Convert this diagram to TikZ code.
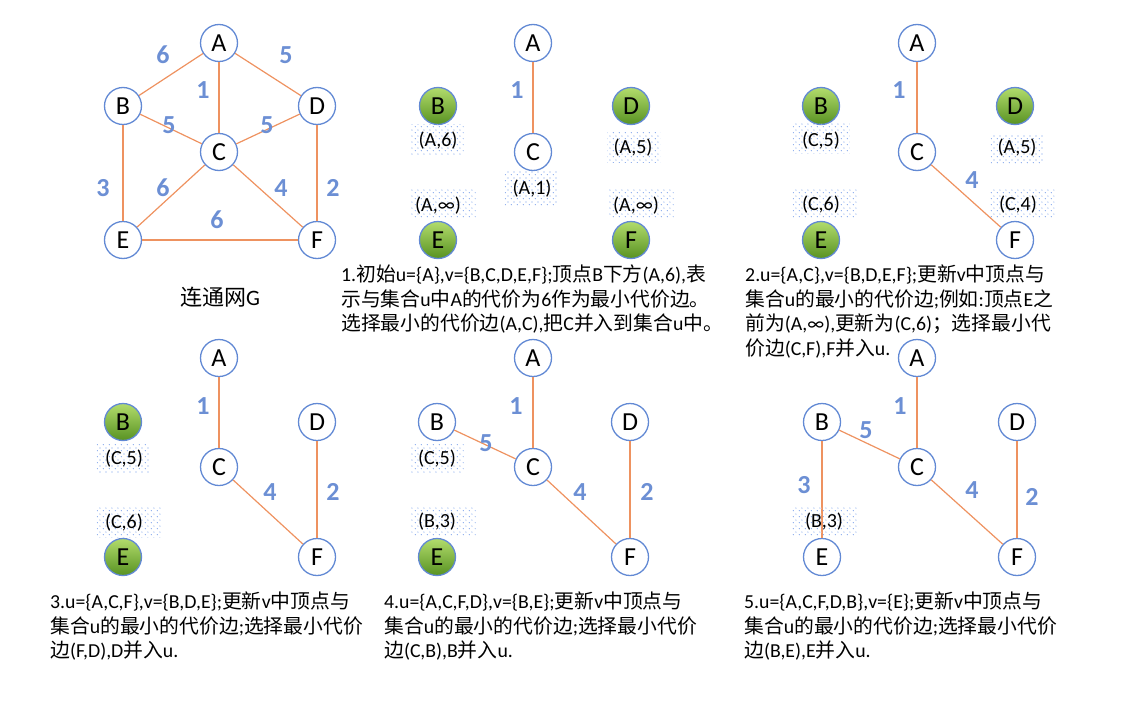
\documentclass[tikz,border=0pt]{standalone}
\usepackage{fontspec}
\setmainfont{Carlito}
\newfontfamily\cjk{Noto Sans CJK SC}
\newcommand\zh[1]{{\cjk #1}}
\usetikzlibrary{patterns}
\definecolor{nb}{RGB}{98,137,212}
\definecolor{eo}{RGB}{238,146,96}
\definecolor{lb}{RGB}{108,143,212}
\definecolor{pd}{RGB}{110,152,232}
\definecolor{gtop}{RGB}{178,220,108}
\definecolor{gbot}{RGB}{88,146,34}
\pgfdeclarepatterninherentlycolored{bdots}{\pgfqpoint{0pt}{0pt}}{\pgfqpoint{6pt}{6pt}}{\pgfqpoint{6pt}{6pt}}{%
  \pgfsetfillcolor{pd}%
  \pgfpathcircle{\pgfqpoint{1.5pt}{1.5pt}}{0.7pt}%
  \pgfpathcircle{\pgfqpoint{4.5pt}{4.5pt}}{0.7pt}%
  \pgfusepath{fill}}
\tikzset{
  vtx/.style={circle, draw=nb, line width=1.3pt, fill=white, minimum size=37pt, inner sep=0pt, font=\fontsize{26}{26}\selectfont},
  gvtx/.style={vtx, top color=gtop, bottom color=gbot},
  edge/.style={draw=eo, line width=1.2pt},
  wlab/.style={font=\fontsize{26}{26}\selectfont\bfseries, text=lb, inner sep=0pt},
  pbox/.style={pattern=bdots, minimum height=30pt, inner sep=0pt},
  ptxt/.style={font=\fontsize{20}{20}\selectfont, inner sep=0pt},
  txt/.style={font=\fontsize{19.8}{24.5}\selectfont, align=left, inner sep=0pt, anchor=north west}
}
\begin{document}
\begin{tikzpicture}[x=1pt,y=-1pt]
\useasboundingbox (0,0) rectangle (1129,704);
% ---------- Graph G ----------
\node[vtx] (gA) at (219,43) {A};
\node[vtx] (gB) at (123,106) {B};
\node[vtx] (gD) at (317,106) {D};
\node[vtx] (gC) at (219,152) {C};
\node[vtx] (gE) at (123,240) {E};
\node[vtx] (gF) at (317,240) {F};
\draw[edge] (gA) -- (gB);
\draw[edge] (gA) -- (gD);
\draw[edge] (gA) -- (gC);
\draw[edge] (gB) -- (gC);
\draw[edge] (gD) -- (gC);
\draw[edge] (gB) -- (gE);
\draw[edge] (gC) -- (gE);
\draw[edge] (gC) -- (gF);
\draw[edge] (gD) -- (gF);
\draw[edge] (gE) -- (gF);
\node[wlab] (gl1) at (163,55) {6};
\node[wlab] (gl2) at (286,55) {5};
\node[wlab] (gl3) at (203,90) {1};
\node[wlab] (gl4) at (169,125) {5};
\node[wlab] (gl5) at (267,125) {5};
\node[wlab] (gl6) at (103,188) {3};
\node[wlab] (gl7) at (163,188) {6};
\node[wlab] (gl8) at (281,188) {4};
\node[wlab] (gl9) at (333,188) {2};
\node[wlab] (gl10) at (217,220) {6};
\node[font=\fontsize{22}{22}\selectfont, inner sep=0pt] (gname) at (220,297) {\zh{连通网}G};
% ---------- Panel 1 ----------
\node[vtx] (aA) at (533,43) {A};
\node[vtx] (aC) at (533,152) {C};
\node[gvtx] (aB) at (438,106) {B};
\node[gvtx] (aD) at (631,106) {D};
\node[gvtx] (aE) at (438,240) {E};
\node[gvtx] (aF) at (631,240) {F};
\draw[edge] (aA) -- (aC);
\node[wlab] (al1) at (517,90) {1};
\node[pbox, minimum width=53pt] (ab1) at (437,139) {};
\node[ptxt] (at1) at (438,141) {(A,6)};
\node[pbox, minimum width=53pt] (ab2) at (634,147) {};
\node[ptxt] (at2) at (633,148) {(A,5)};
\node[pbox, minimum width=53pt, minimum height=34pt] (ab3) at (531,188) {};
\node[ptxt] (at3) at (532,189) {(A,1)};
\node[pbox, minimum width=65pt] (ab4) at (443,203) {};
\node[ptxt] (at4) at (438,206) {(A,∞)};
\node[pbox, minimum width=65pt] (ab5) at (641,203) {};
\node[ptxt] (at5) at (636,206) {(A,∞)};
\node[txt] (atx) at (341,265) {1.\zh{初始}u=\{A\},v=\{B,C,D,E,F\};\zh{顶点}B\zh{下方}(A,6),\zh{表}\\\zh{示与集合}u\zh{中}A\zh{的代价为}6\zh{作为最小代价边。}\\\zh{选择最小的代价边}(A,C),\zh{把}C\zh{并入到集合}u\zh{中。}};
% ---------- Panel 2 ----------
\node[vtx] (bA) at (917,43) {A};
\node[vtx] (bC) at (917,152) {C};
\node[vtx] (bF) at (1015,240) {F};
\node[gvtx] (bB) at (821,106) {B};
\node[gvtx] (bD) at (1015,106) {D};
\node[gvtx] (bE) at (821,240) {E};
\draw[edge] (bA) -- (bC);
\draw[edge] (bC) -- (bF);
\node[wlab] (bl1) at (899,90) {1};
\node[wlab] (bl2) at (972,180) {4};
\node[pbox, minimum width=57pt] (bb1) at (821,138) {};
\node[ptxt] (bt1) at (821,141) {(C,5)};
\node[pbox, minimum width=53pt] (bb2) at (1017,149) {};
\node[ptxt] (bt2) at (1017,148) {(A,5)};
\node[pbox, minimum width=65pt] (bb3) at (825,203) {};
\node[ptxt] (bt3) at (821,205) {(C,6)};
\node[pbox, minimum width=65pt] (bb4) at (1022,203) {};
\node[ptxt] (bt4) at (1018,205) {(C,4)};
\node[txt] (btx) at (745,265) {2.u=\{A,C\},v=\{B,D,E,F\};\zh{更新}v\zh{中顶点与}\\\zh{集合}u\zh{的最小的代价边};\zh{例如}:\zh{顶点}E\zh{之}\\\zh{前为}(A,∞),\zh{更新为}(C,6)\zh{；选择最小代}\\\zh{价边}(C,F),F\zh{并入}u.};
% ---------- Panel 3 ----------
\node[vtx] (cA) at (219,358) {A};
\node[vtx] (cC) at (219,467) {C};
\node[vtx] (cD) at (317,422) {D};
\node[vtx] (cF) at (317,557) {F};
\node[gvtx] (cB) at (123,422) {B};
\node[gvtx] (cE) at (123,557) {E};
\draw[edge] (cA) -- (cC);
\draw[edge] (cC) -- (cF);
\draw[edge] (cD) -- (cF);
\node[wlab] (cl1) at (203,406) {1};
\node[wlab] (cl2) at (270,492) {4};
\node[wlab] (cl3) at (333,492) {2};
\node[pbox, minimum width=53pt] (cb1) at (123,458) {};
\node[ptxt] (ct1) at (124,459) {(C,5)};
\node[pbox, minimum width=65pt] (cb2) at (129,522) {};
\node[ptxt] (ct2) at (124,523) {(C,6)};
\node[txt] (ctx) at (50,592) {3.u=\{A,C,F\},v=\{B,D,E\};\zh{更新}v\zh{中顶点与}\\\zh{集合}u\zh{的最小的代价边};\zh{选择最小代价}\\\zh{边}(F,D),D\zh{并入}u.};
% ---------- Panel 4 ----------
\node[vtx] (dA) at (533,358) {A};
\node[vtx] (dB) at (437,422) {B};
\node[vtx] (dC) at (533,467) {C};
\node[vtx] (dD) at (630,422) {D};
\node[vtx] (dF) at (630,557) {F};
\node[gvtx] (dE) at (437,557) {E};
\draw[edge] (dA) -- (dC);
\draw[edge] (dB) -- (dC);
\draw[edge] (dC) -- (dF);
\draw[edge] (dD) -- (dF);
\node[wlab] (dl1) at (516,406) {1};
\node[wlab] (dl2) at (486,443) {5};
\node[wlab] (dl3) at (580,492) {4};
\node[wlab] (dl4) at (647,492) {2};
\node[pbox, minimum width=53pt] (db1) at (437,458) {};
\node[ptxt] (dt1) at (437,459) {(C,5)};
\node[pbox, minimum width=65pt] (db2) at (443,521) {};
\node[ptxt] (dt2) at (437,522) {(B,3)};
\node[txt] (dtx) at (384,592) {4.u=\{A,C,F,D\},v=\{B,E\};\zh{更新}v\zh{中顶点与}\\\zh{集合}u\zh{的最小的代价边};\zh{选择最小代价}\\\zh{边}(C,B),B\zh{并入}u.};
% ---------- Panel 5 ----------
\node[vtx] (eA) at (917,358) {A};
\node[vtx] (eB) at (822,422) {B};
\node[vtx] (eC) at (917,467) {C};
\node[vtx] (eD) at (1017,422) {D};
\node[vtx] (eE) at (822,557) {E};
\node[vtx] (eF) at (1017,557) {F};
\draw[edge] (eA) -- (eC);
\draw[edge] (eB) -- (eC);
\draw[edge] (eC) -- (eF);
\draw[edge] (eD) -- (eF);
\draw[edge] (eB) -- (eE);
\node[wlab] (el1) at (900,406) {1};
\node[wlab] (el2) at (866,430) {5};
\node[wlab] (el3) at (804,485) {3};
\node[wlab] (el4) at (972,490) {4};
\node[wlab] (el5) at (1032,497) {2};
\node[pbox, minimum width=66pt] (eb1) at (825,521) {};
\node[ptxt] (et1) at (824,522) {(B,3)};
\node[txt] (etx) at (744,592) {5.u=\{A,C,F,D,B\},v=\{E\};\zh{更新}v\zh{中顶点与}\\\zh{集合}u\zh{的最小的代价边};\zh{选择最小代价}\\\zh{边}(B,E),E\zh{并入}u.};
\end{tikzpicture}
\end{document}
